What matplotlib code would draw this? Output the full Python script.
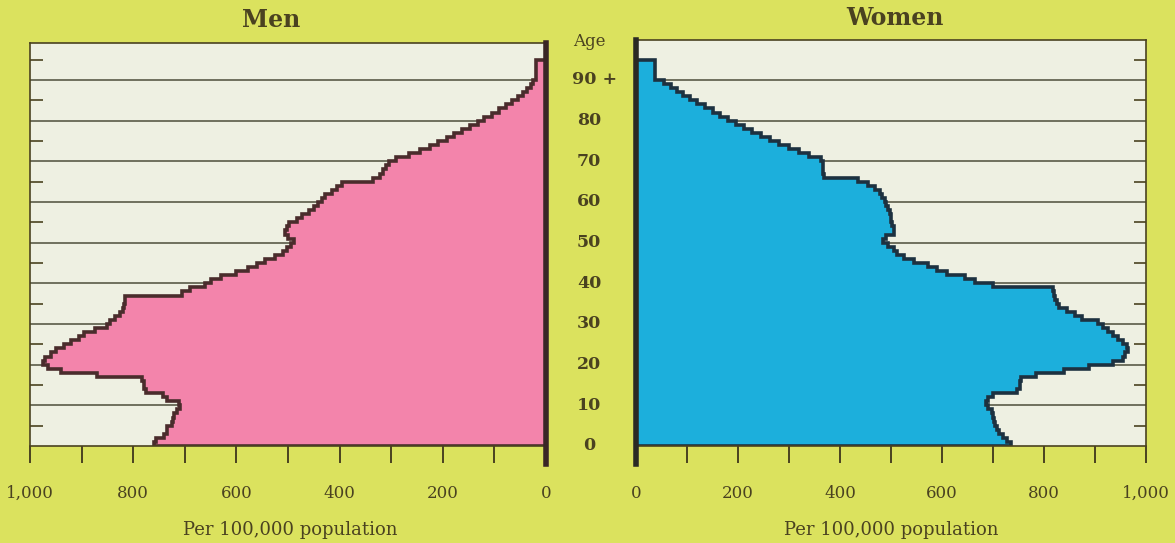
import numpy as np
import matplotlib.pyplot as plt

plt.rcParams['font.family'] = ['DejaVu Serif']

# Rates per 100,000 population by single year of age (0..89), last value = 90+
men = [760, 755, 740, 735, 735, 725, 722, 720, 715, 710,
       712, 735, 742, 775, 780, 780, 782, 870, 940, 965,
       975, 970, 960, 950, 935, 920, 905, 895, 875, 850,
       845, 835, 825, 820, 818, 815, 815, 705, 690, 660,
       650, 630, 600, 578, 560, 545, 525, 510, 502, 495,
       488, 500, 505, 502, 498, 483, 472, 460, 450, 442,
       435, 428, 415, 405, 395, 335, 322, 315, 310, 305,
       290, 265, 245, 225, 210, 192, 178, 162, 148, 132,
       120, 105, 92, 78, 65, 55, 45, 36, 30, 25,
       20]
women = [735, 728, 720, 712, 708, 703, 702, 700, 698, 690,
         686, 690, 700, 748, 752, 752, 755, 785, 840, 888,
         935, 955, 958, 965, 962, 955, 945, 935, 925, 915,
         905, 875, 860, 845, 830, 825, 822, 820, 818, 700,
         665, 645, 610, 590, 572, 545, 525, 512, 505, 495,
         485, 490, 505, 505, 502, 500, 500, 498, 495, 490,
         488, 483, 478, 468, 455, 435, 368, 367, 366, 366,
         362, 340, 320, 300, 280, 262, 245, 228, 212, 196,
         180, 165, 150, 135, 120, 105, 92, 80, 68, 55,
         38]
age_edges = list(range(0, 91)) + [95]
age_labels = ['0', '10', '20', '30', '40', '50', '60', '70', '80', '90 +']
x_ticks = list(range(0, 1001, 100))

bg = '#dbe25e'
panel = '#eef0e2'
ink = '#4a4220'
pink = '#f384ab'
blue = '#1cafdc'

fig = plt.figure(figsize=(11.75, 5.43), dpi=100, facecolor=bg)

px = 1 / 1175
py = 1 / 543
yr = 4.067  # px per year of age
y0 = 446    # pixel row of age 0

ax_m = fig.add_axes([30 * px, (543 - y0) * py, 516 * px, (y0 - 43) * py])
ax_w = fig.add_axes([636 * px, (543 - y0) * py, 510 * px, (y0 - 40) * py])


def style(ax, vals, fill, edge, top, side):
    ax.set_facecolor(panel)
    ax.set_ylim(0, top)
    for a in range(10, 100, 10):
        ax.axhline(a, color='#5a5a48', lw=1.2, zorder=1)
    ax.stairs(vals, age_edges, orientation='horizontal', baseline=0,
              fill=True, facecolor=fill, edgecolor=edge, lw=2.6, zorder=2)
    ax.set_xticks(x_ticks)
    ax.set_xticklabels(['{:,}'.format(v) if v % 200 == 0 else '' for v in x_ticks])
    ax.tick_params(axis='x', direction='out', length=12, width=1.4, color=ink,
                   pad=16, labelsize=12, labelcolor=ink)
    ax.set_yticks(range(5, 100, 10))
    ax.tick_params(axis='y', direction='in', length=9, width=1.2, color=ink,
                   left=(side == 'left'), right=(side == 'right'),
                   labelleft=False, labelright=False)
    for s in ax.spines.values():
        s.set_color(ink)
        s.set_linewidth(1.2)


style(ax_m, men, pink, '#4a2c2c', (y0 - 43) / yr, 'left')
ax_m.set_xlim(1000, 0)
ax_m.spines['right'].set_visible(False)
ax_m.plot([0, 0], [-18 / yr, (y0 - 43) / yr], color='#3a2626', lw=4, clip_on=False, zorder=5)

style(ax_w, women, blue, '#1d3140', (y0 - 40) / yr, 'right')
ax_w.set_xlim(0, 1000)
ax_w.spines['left'].set_visible(False)
ax_w.plot([0, 0], [-18 / yr, (y0 - 40) / yr], color='#2a2a24', lw=4, clip_on=False, zorder=5)

# titles and axis captions
fig.text(271 * px, (543 - 20) * py, 'Men', ha='center', va='center',
         fontsize=17, fontweight='bold', color=ink)
fig.text(895 * px, (543 - 18) * py, 'Women', ha='center', va='center',
         fontsize=17, fontweight='bold', color=ink)
fig.text(290 * px, (543 - 530) * py, 'Per 100,000 population', ha='center', va='center',
         fontsize=13, color=ink)
fig.text(891 * px, (543 - 530) * py, 'Per 100,000 population', ha='center', va='center',
         fontsize=13, color=ink)

# age labels in the centre column
for i, lab in enumerate(age_labels):
    yy = (543 - (y0 - i * 10 * yr)) * py
    xx = 589 * px if i < 9 else 595 * px
    fig.text(xx, yy, lab, ha='center', va='center', fontsize=12.5, fontweight='bold', color=ink)
fig.text(589 * px, (543 - 42) * py, 'Age', ha='center', va='center', fontsize=12, color=ink)

fig.savefig('out.png', dpi=100, facecolor=bg)
